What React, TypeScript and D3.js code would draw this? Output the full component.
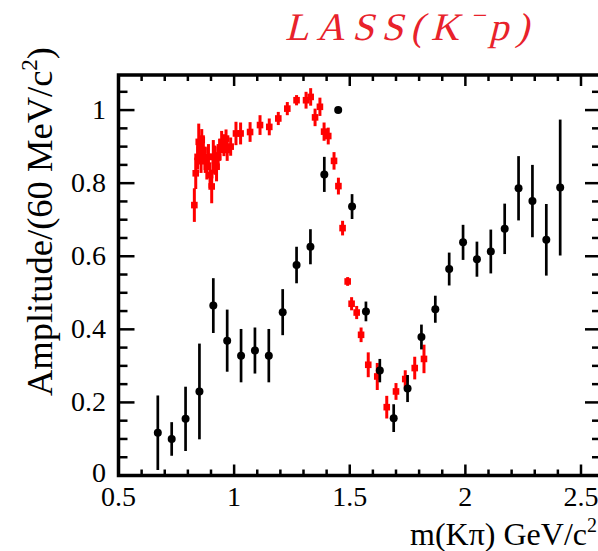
import React from "react";
import * as d3 from "d3";

// Black points: this analysis
const blackMass = [0.67, 0.73, 0.79, 0.85, 0.91, 0.97, 1.03, 1.09, 1.15, 1.21, 1.27, 1.33, 1.39, 1.45, 1.51, 1.57, 1.63, 1.69, 1.75, 1.81, 1.87, 1.93, 1.99, 2.05, 2.11, 2.17, 2.23, 2.29, 2.35, 2.41];
const blackAmp = [0.117, 0.100, 0.155, 0.230, 0.465, 0.369, 0.328, 0.342, 0.328, 0.447, 0.576, 0.626, 0.824, 1.0, 0.736, 0.449, 0.287, 0.157, 0.238, 0.379, 0.455, 0.565, 0.638, 0.592, 0.613, 0.675, 0.786, 0.751, 0.645, 0.788];
const blackErr = [0.102, 0.046, 0.088, 0.131, 0.075, 0.085, 0.073, 0.063, 0.073, 0.063, 0.050, 0.048, 0.048, 0.0, 0.034, 0.027, 0.032, 0.038, 0.037, 0.034, 0.037, 0.045, 0.048, 0.048, 0.060, 0.069, 0.088, 0.099, 0.098, 0.186];

// Red points: LASS (K- p)
const lassMass = [0.828, 0.834, 0.842, 0.847, 0.852, 0.857, 0.860, 0.867, 0.875, 0.882, 0.889, 0.896, 0.903, 0.910, 0.917, 0.924, 0.931, 0.938, 0.946, 0.956, 0.965, 0.970, 0.985, 1.008, 1.028, 1.069, 1.112, 1.152, 1.191, 1.230, 1.270, 1.311, 1.331, 1.350, 1.371, 1.389, 1.407, 1.432, 1.451, 1.469, 1.491, 1.508, 1.530, 1.549, 1.580, 1.619, 1.660, 1.700, 1.740, 1.781, 1.821];
const lassAmp = [0.740, 0.827, 0.872, 0.913, 0.891, 0.863, 0.918, 0.891, 0.863, 0.845, 0.872, 0.822, 0.791, 0.872, 0.863, 0.845, 0.872, 0.891, 0.913, 0.904, 0.922, 0.891, 0.900, 0.936, 0.936, 0.940, 0.959, 0.954, 0.977, 1.004, 1.027, 1.027, 1.036, 0.980, 1.009, 0.941, 0.929, 0.861, 0.792, 0.677, 0.531, 0.470, 0.446, 0.385, 0.303, 0.271, 0.187, 0.230, 0.264, 0.294, 0.319];
const lassErr = [0.046, 0.043, 0.035, 0.050, 0.040, 0.035, 0.030, 0.040, 0.035, 0.035, 0.035, 0.035, 0.046, 0.046, 0.040, 0.040, 0.035, 0.030, 0.030, 0.030, 0.025, 0.030, 0.025, 0.032, 0.030, 0.027, 0.027, 0.023, 0.018, 0.018, 0.014, 0.023, 0.024, 0.024, 0.025, 0.025, 0.023, 0.024, 0.023, 0.020, 0.012, 0.018, 0.018, 0.020, 0.034, 0.037, 0.031, 0.023, 0.024, 0.031, 0.039];

const xTickLabels = [0.5, 1, 1.5, 2, 2.5];
const yTickLabels = [0, 0.2, 0.4, 0.6, 0.8, 1];

const W = 598;
const H = 551;
const FONT = "'Liberation Serif', 'DejaVu Serif', serif";

export default function App() {
  const left = 118.5, right = 601, top = 75, bottom = 475.5;
  const x = d3.scaleLinear().domain([0.5, 2.5865]).range([left, right]);
  const y = d3.scaleLinear().domain([0, 1.096]).range([bottom, top]);

  const xMinor = d3.range(0.5, 2.59, 0.1).map((v) => +v.toFixed(2));
  const yMinor = d3.range(0, 1.1, 0.05).map((v) => +v.toFixed(2));
  const isMajorX = (v: number) => Math.abs(v * 2 - Math.round(v * 2)) < 1e-6;
  const isMajorY = (v: number) => Math.abs(v * 5 - Math.round(v * 5)) < 1e-6;

  const black = blackMass.map((m, i) => ({ m, a: blackAmp[i], e: blackErr[i] }));
  const lass = lassMass.map((m, i) => ({ m, a: lassAmp[i], e: lassErr[i] }));

  return (
    <svg width={W} height={H} style={{ display: "block", position: "absolute", left: 0, top: 0 }} fontFamily={FONT}>
      <rect x={0} y={0} width={W} height={H} fill="#fff" />
      {/* ticks */}
      <g stroke="#000" strokeWidth={2.5}>
        {xMinor.map((v) => {
          const L = isMajorX(v) ? 11 : 6;
          return (
            <g key={"xt" + v}>
              <line x1={x(v)} x2={x(v)} y1={bottom} y2={bottom - L} />
              <line x1={x(v)} x2={x(v)} y1={top} y2={top + L} />
            </g>
          );
        })}
        {yMinor.map((v) => {
          const L = isMajorY(v) ? 16 : 9;
          return (
            <g key={"yt" + v}>
              <line x1={left} x2={left + L} y1={y(v)} y2={y(v)} />
              <line x1={right} x2={right - L} y1={y(v)} y2={y(v)} />
            </g>
          );
        })}
      </g>
      {/* frame */}
      <rect x={left} y={top} width={right - left} height={bottom - top} fill="none" stroke="#000" strokeWidth={3.5} />

      {/* LASS red points */}
      <g>
        {lass.map((d, i) => (
          <g key={"r" + i}>
            <line x1={x(d.m)} x2={x(d.m)} y1={y(d.a - d.e)} y2={y(d.a + d.e)} stroke="#ff0000" strokeWidth={3} />
            <rect x={x(d.m) - 3.3} y={y(d.a) - 3.3} width={6.6} height={6.6} fill="#ff0000" />
          </g>
        ))}
      </g>
      {/* black points */}
      <g>
        {black.map((d, i) => (
          <g key={"b" + i}>
            {d.e > 0 && (
              <line x1={x(d.m)} x2={x(d.m)} y1={y(d.a - d.e)} y2={y(d.a + d.e)} stroke="#000" strokeWidth={2.7} />
            )}
            <circle cx={x(d.m)} cy={y(d.a)} r={4} fill="#000" />
          </g>
        ))}
      </g>

      {/* tick labels */}
      <g fontSize={28} fill="#000">
        {xTickLabels.map((v) => (
          <text key={"xl" + v} x={x(v)} y={506} textAnchor="middle">
            {String(v)}
          </text>
        ))}
        {yTickLabels.map((v) => (
          <text key={"yl" + v} x={106} y={y(v) + (v === 0 ? 6 : 9)} textAnchor="end">
            {String(v)}
          </text>
        ))}
      </g>

      {/* axis titles */}
      <text x={597} y={545} textAnchor="end" fontSize={32} fill="#000">
        m(Kπ) GeV/c<tspan fontSize={20} dy={-13}>2</tspan>
      </text>
      <text transform="translate(52,47) rotate(-90)" textAnchor="end" fontSize={36.5} fill="#000">
        Amplitude/(60 MeV/c<tspan fontSize={23} dy={-15}>2</tspan>
        <tspan dy={15}>)</tspan>
      </text>

      {/* title (slanted serif, math-italic look) */}
      <g transform="translate(285,40) skewX(-14)">
        <text x={0} y={0} fontSize={39} fill="#e8222b" letterSpacing={7.5}>
          LASS(K<tspan fontSize={26} dy={-16}>−</tspan>
          <tspan dy={16}>p)</tspan>
        </text>
      </g>
    </svg>
  );
}
